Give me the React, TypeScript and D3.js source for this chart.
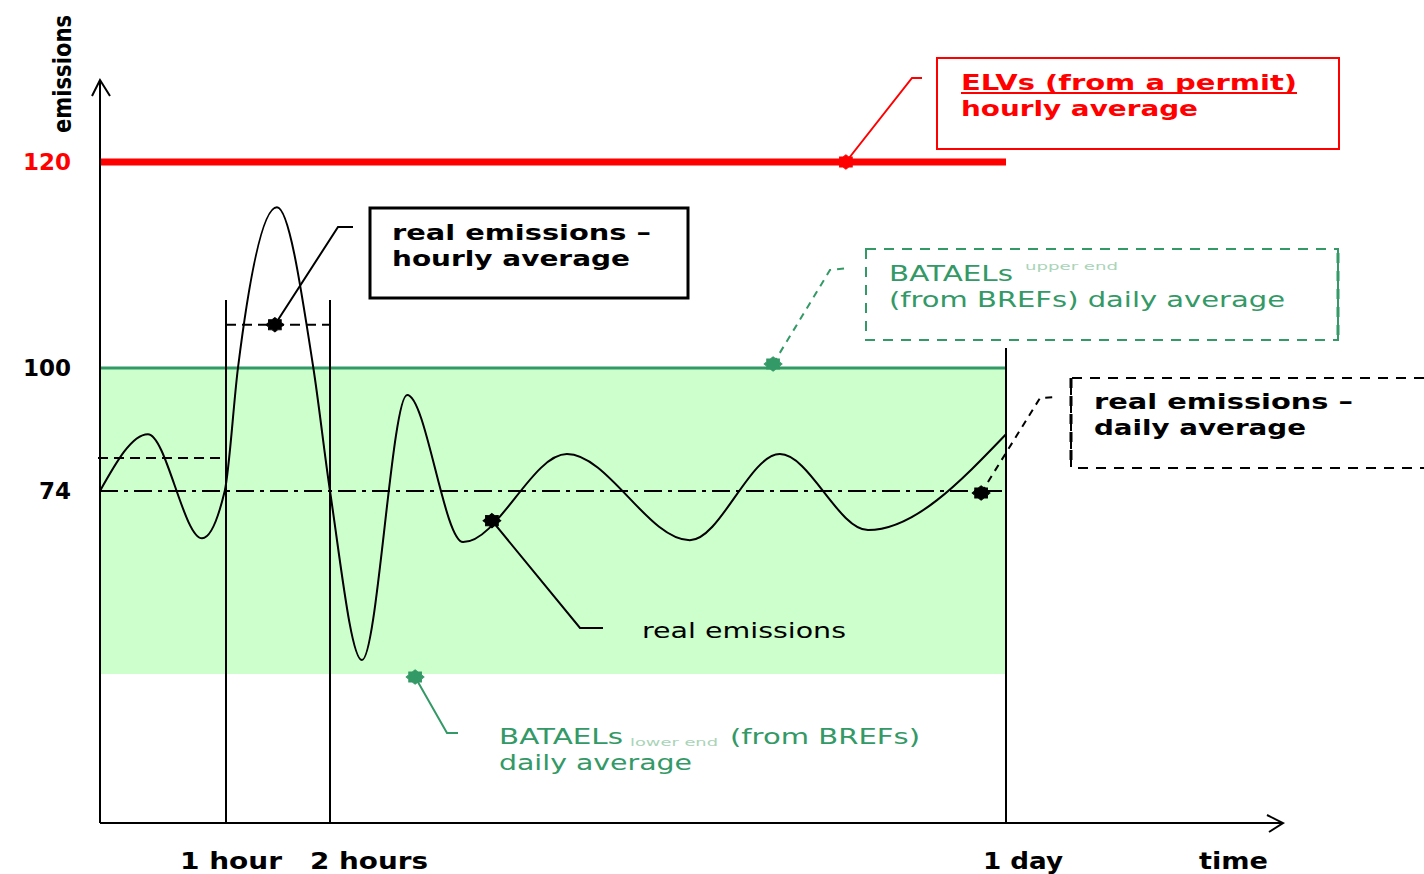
import React from "react";
import * as d3 from "d3";

// ---- data (schematic) ----
const hours = [0, 0.38, 0.81, 0.99, 1.115, 1.49, 1.84, 2.0, 3.04, 4.51, 6.33, 9.71, 13.71, 16.64, 19.51, 24];
const emissions = [74, 86, 66.5, 74, 100, 115.6, 100, 74, 47.2, 94.3, 65.9, 81.8, 66.2, 81.8, 67.8, 86];

const elv = 120; // ELV hourly average
const bataelUpper = 100;
const bataelLower = 45;
const dailyAverage = 74;
const hourlyAverages = [
  { from: 0, to: 1, value: 81 },
  { from: 1, to: 2, value: 104.2 },
];
const yTickValues = [120, 100, 74];
const yTickLabels = ["120", "100", "74"];
const xTickValues = [1, 2, 24];
const xTickLabels = ["1 hour", "2 hours", "1 day"];

// markers in data units
const markElv = { h: 18.79, v: elv };
const markUpper = { h: 16.42, v: bataelUpper };
const markLower = { h: 4.77, v: bataelLower };
const markHourly = { h: 1.47, v: 104.2 };
const markDaily = { h: 23.19, v: dailyAverage };
const markReal = { h: 7.27, v: 69.3 };

// ---- layout ----
const W = 1424;
const H = 874;
const x = d3.scaleLinear().domain([0, 1, 2, 24]).range([100, 226, 330, 1006]);
const y = d3.scaleLinear().domain([0, 45, 74, 100, 120]).range([823, 674, 491, 368, 162]);

const RED = "#ff0000";
const GREEN = "#339966";
const FILL = "#ccffcc";
const FONT = "'DejaVu Sans', Verdana, sans-serif";

const burstPts: [number, number][] = d3.range(16).map((i) => [
  (i * Math.PI) / 8,
  i % 2 === 0 ? 8.5 : 6.5,
]);
const burstPath = d3.lineRadial().curve(d3.curveLinearClosed)(burstPts) || "";

function Blob({ cx, cy, color }: { cx: number; cy: number; color: string }) {
  return <path d={burstPath} transform={`translate(${cx},${cy}) scale(1.05,0.85)`} fill={color} stroke={color} strokeWidth={1} />;
}

function T(props: any) {
  const { children, len, size = 22, weight = "bold", fill = "#000", ...rest } = props;
  return (
    <text
      fontFamily={FONT}
      fontSize={size}
      fontWeight={weight}
      fill={fill}
      textLength={len}
      lengthAdjust="spacingAndGlyphs"
      {...rest}
    >
      {children}
    </text>
  );
}

export default function App() {
  const line = d3
    .line<number>()
    .x((_, i) => x(hours[i]))
    .y((d) => y(d))
    .curve(d3.curveMonotoneX);
  const curvePath = line(emissions) || "";

  const x0 = x(0);
  const xEnd = x(24);
  const yBase = y(0);

  const mElv = { x: x(markElv.h), y: y(markElv.v) };
  const mUp = { x: x(markUpper.h), y: y(markUpper.v) - 4 };
  const mLow = { x: x(markLower.h), y: y(markLower.v) + 3 };
  const mHr = { x: x(markHourly.h), y: y(markHourly.v) };
  const mDay = { x: x(markDaily.h), y: y(markDaily.v) + 2 };
  const mReal = { x: x(markReal.h), y: y(markReal.v) };

  const xOffsets = [-46, -20, -23];

  return (
    <svg width={W} height={H} style={{ position: "absolute", left: 0, top: 0, background: "#fff" }}>
      {/* green band */}
      <rect x={x0} y={y(bataelUpper)} width={xEnd - x0} height={y(bataelLower) - y(bataelUpper)} fill={FILL} />
      <line x1={x0} x2={xEnd} y1={y(bataelUpper)} y2={y(bataelUpper)} stroke={GREEN} strokeWidth={3} />

      {/* red ELV line */}
      <line x1={x0} x2={xEnd} y1={y(elv)} y2={y(elv)} stroke={RED} strokeWidth={7} />

      {/* daily average dash-dot */}
      <line x1={x0} x2={xEnd} y1={y(dailyAverage)} y2={y(dailyAverage)} stroke="#000" strokeWidth={2} strokeDasharray="18,6,4,6" />

      {/* hourly averages dashed */}
      {hourlyAverages.map((a, i) => (
        <line key={i} x1={x(a.from) - (i === 0 ? 2 : 0)} x2={x(a.to)} y1={y(a.value)} y2={y(a.value)} stroke="#000" strokeWidth={2} strokeDasharray="10,6" />
      ))}

      {/* vertical hour lines */}
      <line x1={x(1)} x2={x(1)} y1={300} y2={yBase} stroke="#000" strokeWidth={2} />
      <line x1={x(2)} x2={x(2)} y1={300} y2={yBase} stroke="#000" strokeWidth={2} />
      <line x1={x(24)} x2={x(24)} y1={348} y2={yBase} stroke="#000" strokeWidth={2} />

      {/* curve */}
      <path d={curvePath} fill="none" stroke="#000" strokeWidth={2} />

      {/* axes */}
      <line x1={x0} x2={x0} y1={80} y2={yBase} stroke="#000" strokeWidth={2} />
      <polyline points={`92,96 ${x0},80 110,96`} fill="none" stroke="#000" strokeWidth={2} />
      <line x1={x0} x2={1283} y1={yBase} y2={yBase} stroke="#000" strokeWidth={2} />
      <polyline points={`1267,815 1283,823 1269,832`} fill="none" stroke="#000" strokeWidth={2} />

      {/* y tick labels */}
      {yTickValues.map((v, i) => (
        <T key={v} x={71} y={y(v) + 8} textAnchor="end" fill={v === elv ? RED : "#000"} size={23}>
          {yTickLabels[i]}
        </T>
      ))}
      <T x={0} y={0} size={24} weight="bold" transform="translate(71,74) rotate(-90)" textAnchor="middle" len={118}>
        emissions
      </T>

      {/* x tick labels */}
      {xTickValues.map((v, i) => (
        <T key={v} x={x(v) + xOffsets[i]} y={869} size={23} len={[102, 118, 80][i]}>
          {xTickLabels[i]}
        </T>
      ))}
      <T x={1199} y={869} size={23} len={69}>time</T>

      {/* ELV annotation */}
      <polyline points={`${mElv.x},${mElv.y} 912,78 922,78`} fill="none" stroke={RED} strokeWidth={2} />
      <Blob cx={mElv.x} cy={mElv.y} color={RED} />
      <rect x={937} y={58} width={402} height={91} fill="none" stroke={RED} strokeWidth={2} />
      <T x={961} y={90} fill={RED} len={336}>ELVs (from a permit)</T>
      <line x1={961} x2={1297} y1={93} y2={93} stroke={RED} strokeWidth={2} />
      <T x={961} y={116} fill={RED} len={237}>hourly average</T>

      {/* hourly real emissions annotation */}
      <polyline points={`${mHr.x},${mHr.y} 338,227 353,227`} fill="none" stroke="#000" strokeWidth={2} />
      <Blob cx={mHr.x} cy={mHr.y} color="#000" />
      <rect x={370} y={208} width={318} height={90} fill="none" stroke="#000" strokeWidth={3} />
      <T x={392} y={240} len={259}>real emissions –</T>
      <T x={392} y={266} len={238}>hourly average</T>

      {/* BATAEL upper annotation */}
      <polyline points={`${mUp.x},${mUp.y} 830,270 848,268`} fill="none" stroke={GREEN} strokeWidth={2} strokeDasharray="7,6" />
      <Blob cx={mUp.x} cy={mUp.y} color={GREEN} />
      <rect x={866} y={249} width={472} height={91} fill="none" stroke={GREEN} strokeWidth={2} strokeDasharray="10,8" />
      <line x1={1338} x2={1338} y1={253} y2={340} stroke={GREEN} strokeWidth={3} strokeDasharray="10,8" />
      <T x={889} y={281} fill={GREEN} weight="normal" len={124}>BATAELs</T>
      <T x={1025} y={270} fill="#aad4b8" weight="normal" size={11} len={93}>upper end</T>
      <T x={889} y={307} fill={GREEN} weight="normal" len={396}>(from BREFs) daily average</T>

      {/* daily real emissions annotation */}
      <polyline points={`${mDay.x},${mDay.y} 1040,398 1056,397`} fill="none" stroke="#000" strokeWidth={2} strokeDasharray="7,6" />
      <Blob cx={mDay.x} cy={mDay.y} color="#000" />
      <path d="M1424,378 H1071 V468 H1424" fill="none" stroke="#000" strokeWidth={2} strokeDasharray="10,8" />
      <line x1={1071} x2={1071} y1={378} y2={468} stroke="#000" strokeWidth={3} strokeDasharray="10,8" />
      <T x={1094} y={409} len={259}>real emissions –</T>
      <T x={1094} y={435} len={212}>daily average</T>

      {/* real emissions annotation */}
      <polyline points={`${mReal.x},${mReal.y} 580,628 603,628`} fill="none" stroke="#000" strokeWidth={2} />
      <Blob cx={mReal.x} cy={mReal.y} color="#000" />
      <T x={642} y={638} weight="normal" len={204}>real emissions</T>

      {/* BATAEL lower annotation */}
      <polyline points={`${mLow.x},${mLow.y} 447,733 458,733`} fill="none" stroke={GREEN} strokeWidth={2} />
      <Blob cx={mLow.x} cy={mLow.y} color={GREEN} />
      <T x={499} y={744} fill={GREEN} weight="normal" len={124}>BATAELs</T>
      <T x={630} y={746} fill="#aad4b8" weight="normal" size={11} len={88}>lower end</T>
      <T x={730} y={744} fill={GREEN} weight="normal" len={190}>(from BREFs)</T>
      <T x={499} y={770} fill={GREEN} weight="normal" len={193}>daily average</T>
    </svg>
  );
}
